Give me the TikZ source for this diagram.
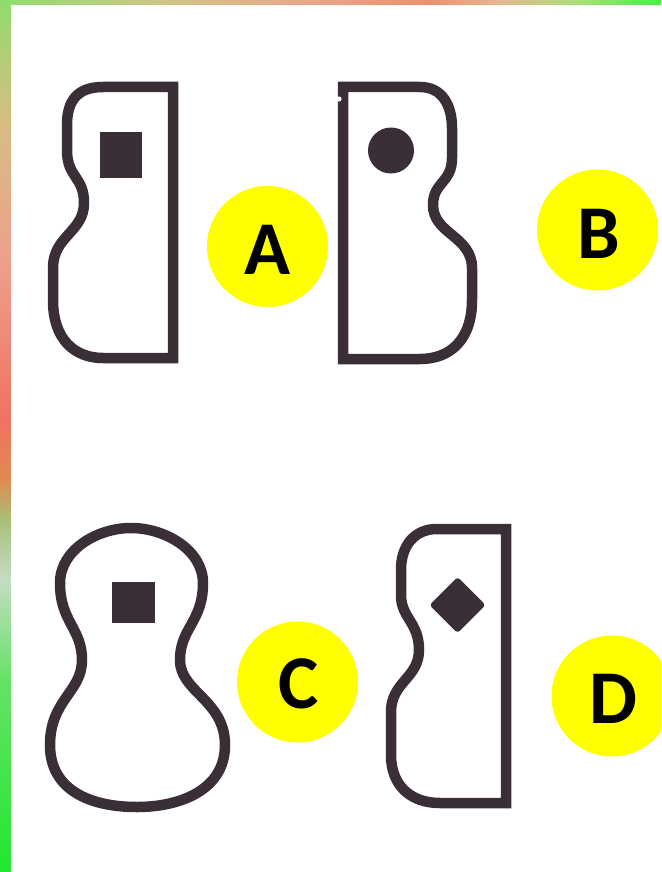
\documentclass[tikz,border=0pt]{standalone}
\usepackage{fontspec}
\newfontfamily\lblfont[BoldFont={Carlito Bold}]{Carlito}
\definecolor{ink}{HTML}{3A2F37}
\definecolor{badge}{HTML}{FFFF00}
\definecolor{gA}{HTML}{8EDE6E}
\definecolor{gB}{HTML}{CFC585}
\definecolor{gC}{HTML}{E8A88A}
\definecolor{gD}{HTML}{EB9070}
\definecolor{gE}{HTML}{E6B890}
\definecolor{gF}{HTML}{A8E078}
\definecolor{gG}{HTML}{44F044}
\definecolor{lA}{HTML}{90DC6C}
\definecolor{lB}{HTML}{D6BE84}
\definecolor{lC}{HTML}{EEA08C}
\definecolor{lD}{HTML}{F07262}
\definecolor{lE}{HTML}{E08A52}
\definecolor{lF}{HTML}{A8C078}
\definecolor{lG}{HTML}{C4DCC4}
\definecolor{lH}{HTML}{66E266}
\definecolor{lI}{HTML}{22E632}
\tikzset{
  outline/.style={draw=ink, line width=10.5pt, line join=miter},
  mark fill/.style={fill=ink},
  badgecirc/.style={fill=badge},
  letter/.style={anchor=base, font=\lblfont\bfseries\fontsize{76}{76}\selectfont, text=black, inner sep=0pt}
}
\begin{document}
\begin{tikzpicture}[x=1pt,y=-1pt]
\useasboundingbox (0,0) rectangle (661,872);
\clip (0,0) rectangle (661,872);
\fill[white] (0,0) rectangle (661,872);
% top strip
\shade[left color=gA,right color=gB] (0,0) rectangle (165,5);
\shade[left color=gB,right color=gC] (164.5,0) rectangle (300,5);
\shade[left color=gC,right color=gD] (299.5,0) rectangle (430,5);
\shade[left color=gD,right color=gE] (429.5,0) rectangle (500,5);
\shade[left color=gE,right color=gF] (499.5,0) rectangle (580,5);
\shade[left color=gF,right color=gG] (579.5,0) rectangle (661,5);
% left strip
\shade[top color=lA,bottom color=lB] (0,0) rectangle (10.5,120);
\shade[top color=lB,bottom color=lC] (0,119.5) rectangle (10.5,260);
\shade[top color=lC,bottom color=lD] (0,259.5) rectangle (10.5,420);
\shade[top color=lD,bottom color=lE] (0,419.5) rectangle (10.5,480);
\shade[top color=lE,bottom color=lF] (0,479.5) rectangle (10.5,520);
\shade[top color=lF,bottom color=lG] (0,519.5) rectangle (10.5,580);
\shade[top color=lG,bottom color=lH] (0,579.5) rectangle (10.5,680);
\shade[top color=lH,bottom color=lI] (0,679.5) rectangle (10.5,872);

% shape A
\draw[outline] (103,87) .. controls (78,87) and (67,100) .. (67,125)
  -- (67,150)
  .. controls (67,178) and (84,176) .. (84,203)
  .. controls (84,232) and (53,236) .. (53,268)
  -- (53,300)
  .. controls (53,340) and (75,358) .. (103,358)
  -- (173,358) -- (173,87) -- cycle;
\fill[mark fill] (100,132) rectangle (142,178);

% shape B
\draw[outline] (343,87) -- (420,87)
  .. controls (442,87) and (452,105) .. (452,128)
  -- (452,158)
  .. controls (452,183) and (433,182) .. (433,205)
  .. controls (433,234) and (472,236) .. (472,268)
  -- (472,300)
  .. controls (472,340) and (450,359) .. (420,359)
  -- (343,359) -- cycle;
\fill[white] (339,99) circle[radius=2.6pt];
\fill[mark fill] (391,150.5) circle[radius=23pt];

% shape C
\draw[outline] (131,528) .. controls (165,528) and (203,550) .. (203,583)
  .. controls (203,622) and (180,628) .. (180,660)
  .. controls (180,692) and (225,700) .. (225,745)
  .. controls (225,790) and (180,807) .. (137,807)
  .. controls (90,807) and (50,790) .. (50,745)
  .. controls (50,700) and (82,692) .. (82,660)
  .. controls (82,628) and (60,622) .. (60,583)
  .. controls (60,550) and (97,528) .. (131,528) -- cycle;
\fill[mark fill] (112,582) rectangle (155,623);

% shape D
\draw[outline] (506,529) -- (506,803) -- (440,803)
  .. controls (410,803) and (391,785) .. (391,755)
  -- (391,712)
  .. controls (391,682) and (419,678) .. (419,650)
  .. controls (419,622) and (401,618) .. (401,595)
  -- (401,570)
  .. controls (401,545) and (415,529) .. (437,529) -- cycle;
\fill[mark fill, rounded corners=3pt] (457.5,577) -- (485.5,605) -- (457.5,633) -- (429.5,605) -- cycle;

% badges
\fill[badgecirc] (267.5,246.5) circle[radius=60.5pt];
\fill[badgecirc] (597.5,230) circle[radius=60.5pt];
\fill[badgecirc] (297.5,682) circle[radius=60.5pt];
\fill[badgecirc] (612,696) circle[radius=60.5pt];
\node[letter] (la) at (267.5,274) {A};
\node[letter] (lb) at (599,258) {B};
\node[letter] (lc) at (298.5,708.5) {C};
\node[letter] (ld) at (613.5,723) {D};
\end{tikzpicture}
\end{document}
